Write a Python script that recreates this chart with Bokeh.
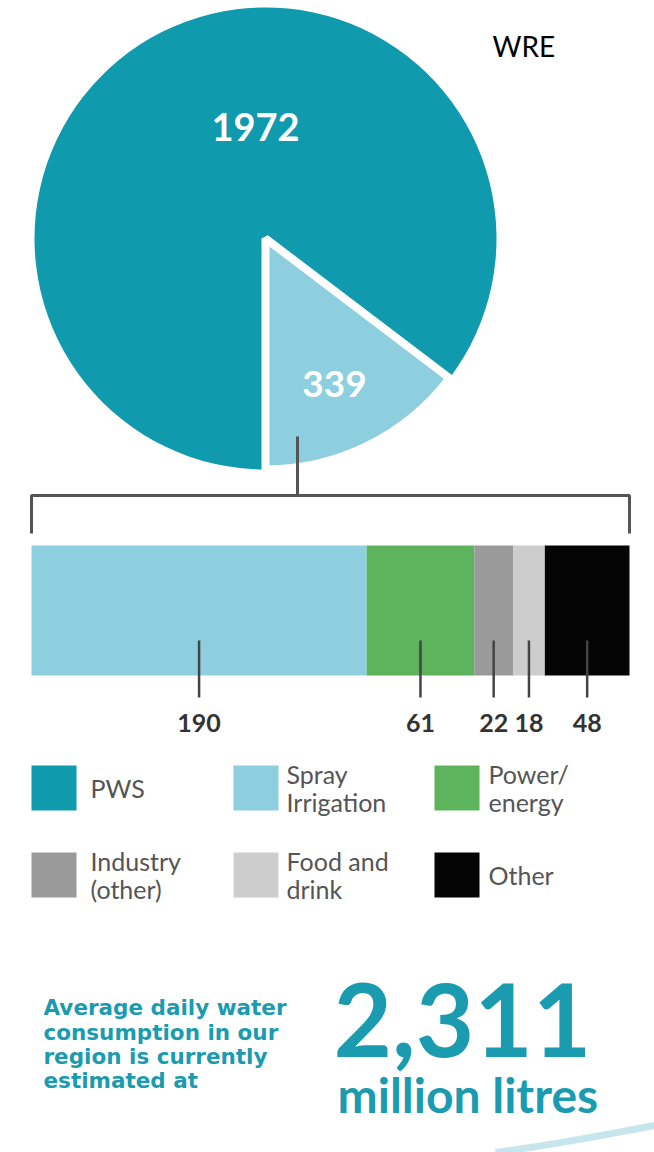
import numpy as np
from bokeh.plotting import figure
from bokeh.models import Range1d
from bokeh.embed import file_html
from bokeh.resources import INLINE
from bokeh.core.properties import value

# ---------------- data ----------------
pie_labels = ["PWS", "Spray Irrigation"]
pie_values = [1972, 339]

bar_categories = ["Spray Irrigation", "Power/energy", "Industry (other)", "Food and drink", "Other"]
bar_values = [190, 61, 22, 18, 48]

legend_labels = ["PWS", "Spray\nIrrigation", "Power/\nenergy",
                 "Industry\n(other)", "Food and\ndrink", "Other"]

total_text = "2,311"
unit_text = "million litres"
intro_lines = ["Average daily water", "consumption in our",
               "region is currently", "estimated at"]
corner_label = "WRE"

# ---------------- styles ----------------
C_PWS = "#0f9aae"
C_SPRAY = "#8dcfde"
C_POWER = "#5db45d"
C_IND = "#9a9a9a"
C_FOOD = "#cdcdcd"
C_OTHER = "#050505"
bar_colors = [C_SPRAY, C_POWER, C_IND, C_FOOD, C_OTHER]
legend_colors = [C_PWS, C_SPRAY, C_POWER, C_IND, C_FOOD, C_OTHER]
TEAL_TXT = "#1a9bb0"
DARK = "#555555"

W, H = 654, 1152
p = figure(width=W, height=H, x_range=Range1d(0, W), y_range=Range1d(-H, 0),
           output_backend="svg", toolbar_location=None, min_border=0)
p.axis.visible = False
p.xgrid.visible = False
p.ygrid.visible = False
p.outline_line_color = None
p.background_fill_color = "white"
p.border_fill_color = "white"

# ---------------- pie ----------------
cx, cy, R = 265, 238, 231
tot = sum(pie_values)
a0 = -np.pi / 2
a_split = a0 + 2 * np.pi * pie_values[1] / tot
p.wedge(x=cx, y=-cy, radius=R, start_angle=a_split, end_angle=a0 + 2 * np.pi,
        fill_color=C_PWS, line_color=None)
p.wedge(x=cx, y=-cy, radius=R, start_angle=a0, end_angle=a_split,
        fill_color=C_SPRAY, line_color="white", line_width=8)

p.text(x=[255], y=[-126], text=[str(pie_values[0])], text_align="center",
       text_baseline="middle", text_font=value("Lato"), text_font_style="bold",
       text_font_size="38px", text_color="white")
p.text(x=[334], y=[-383], text=[str(pie_values[1])], text_align="center",
       text_baseline="middle", text_font=value("Lato"), text_font_style="bold",
       text_font_size="37px", text_color="white")

p.text(x=[492], y=[-45], text=[corner_label], text_align="left",
       text_baseline="middle", text_font=value("Lato"),
       text_font_size="28px", text_color="black")

# ---------------- bracket ----------------
bar_left, bar_len = 31, 598
bar_right = bar_left + bar_len
stem_x = 297
p.line(x=[stem_x, stem_x], y=[-436, -495], line_color=DARK, line_width=3)
p.line(x=[bar_left, bar_left, bar_right, bar_right], y=[-533, -495, -495, -533],
       line_color=DARK, line_width=3)

# ---------------- stacked bar ----------------
vals = np.array(bar_values, dtype=float)
scale = bar_len / vals.sum()
rights = bar_left + np.cumsum(vals) * scale
lefts = rights - vals * scale
centers = (lefts + rights) / 2
p.quad(left=lefts, right=rights, top=-545, bottom=-675,
       fill_color=bar_colors, line_color=None)
p.segment(x0=centers, y0=-640, x1=centers, y1=-697, line_color="#444444", line_width=2.5)
p.text(x=centers, y=[-722] * len(centers), text=[str(v) for v in bar_values],
       text_align="center", text_baseline="middle", text_font=value("Lato"),
       text_font_style="bold", text_font_size="25px", text_color="#333333")

# ---------------- legend ----------------
col_x = [31, 233, 434]
row_y = [765, 852]
lab_x = [90, 286, 488]
sq_l, sq_r, sq_t, sq_b = [], [], [], []
for i, c in enumerate(legend_colors):
    r, k = divmod(i, 3)
    sq_l.append(col_x[k]); sq_r.append(col_x[k] + 45)
    sq_t.append(-row_y[r]); sq_b.append(-(row_y[r] + 45))
p.quad(left=sq_l, right=sq_r, top=sq_t, bottom=sq_b, fill_color=legend_colors, line_color=None)

tx, ty, tt = [], [], []
for i, lab in enumerate(legend_labels):
    r, k = divmod(i, 3)
    mid = row_y[r] + 22
    lines = lab.split("\n")
    n = len(lines)
    for j, ln in enumerate(lines):
        tx.append(lab_x[k])
        ty.append(-(mid + (j - (n - 1) / 2) * 28))
        tt.append(ln)
p.text(x=tx, y=ty, text=tt, text_align="left", text_baseline="middle",
       text_font=value("Lato"), text_font_size="25px", text_color=DARK)

# ---------------- summary ----------------
p.text(x=[43] * len(intro_lines), y=[-1007, -1032, -1056, -1080], text=intro_lines,
       text_align="left", text_baseline="middle", text_font=value("DejaVu Sans"),
       text_font_style="bold", text_font_size="21.5px", text_color=TEAL_TXT)
p.text(x=[333], y=[-1019], text=[total_text], text_align="left", text_baseline="alphabetic",
       text_font=value("Lato"), text_font_style="bold",
       text_font_size="101px", text_color=TEAL_TXT)
p.text(x=[337], y=[-1094], text=[unit_text], text_align="left", text_baseline="alphabetic",
       text_font=value("Lato"), text_font_style="bold",
       text_font_size="48px", text_color=TEAL_TXT)

# decorative swoosh
p.bezier(x0=[495], y0=[-1152], x1=[654], y1=[-1125], cx0=[570], cy0=[-1142],
         cx1=[615], cy1=[-1132], line_color="#b9dfe9", line_width=7, line_alpha=0.8)

open("out.html", "w").write(file_html(p, INLINE))
